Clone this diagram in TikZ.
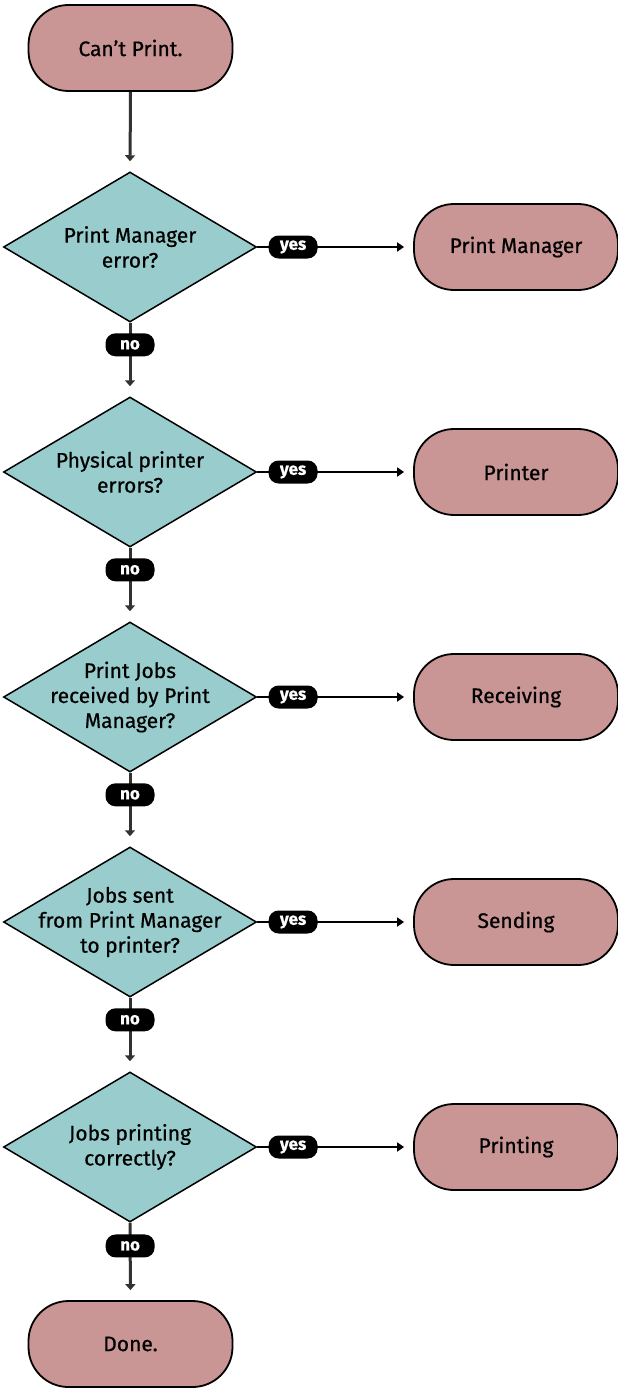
\documentclass[tikz,border=0pt]{standalone}
\usepackage{fontspec}
\setmainfont{Fira Sans}[FakeBold=0.6]
\usetikzlibrary{shapes.geometric,arrows.meta}
\definecolor{pinkfill}{RGB}{201,150,149}
\definecolor{tealfill}{RGB}{153,204,204}
\definecolor{lineg}{RGB}{50,50,50}
\tikzset{
  term/.style={draw=black, line width=1.8pt, fill=pinkfill, rectangle, rounded corners=40pt,
    minimum width=204pt, minimum height=86pt, font=\fontsize{21}{25}\selectfont, inner sep=0pt},
  dia/.style={draw=black, line width=1.5pt, fill=tealfill, diamond, minimum width=253pt,
    minimum height=150pt, inner sep=0pt},
  dtext/.style={align=center, font=\fontsize{21}{25}\selectfont, inner sep=0pt},
  pill/.style={fill=black, text=white, rounded corners=10pt, minimum width=49pt, minimum height=23pt,
    inner sep=0pt, font=\bfseries\fontsize{17}{18}\selectfont},
  downarr/.style={draw=lineg, line width=3pt, -{Triangle[length=6pt,width=10pt]}},
  rightarr/.style={draw=black, line width=2pt, -{Triangle[length=7pt,width=9pt]}},
}
\begin{document}
\begin{tikzpicture}[x=1pt,y=-1pt]
\useasboundingbox (0,0) rectangle (618,1389);
\node[term] (start) at (130.5,48) {Can't Print.};
\node[dia] (d1) at (130,247) {};
\node[dtext] (t1) at (d1) {Print Manager\\error?};
\node[dia] (d2) at (130,472) {};
\node[dtext] (t2) at (d2) {Physical printer\\errors?};
\node[dia] (d3) at (130,697) {};
\node[dtext] (t3) at (d3) {Print Jobs\\received by Print\\Manager?};
\node[dia] (d4) at (130,922) {};
\node[dtext] (t4) at (d4) {Jobs sent\\from Print Manager\\to printer?};
\node[dia] (d5) at (130,1147) {};
\node[dtext] (t5) at (d5) {Jobs printing\\correctly?};
\node[term] (done) at (130.5,1344) {Done.};
\node[term] (r1) at (516,247) {Print Manager};
\node[term] (r2) at (516,472) {Printer};
\node[term] (r3) at (516,697) {Receiving};
\node[term] (r4) at (516,922) {Sending};
\node[term] (r5) at (516,1147) {Printing};
\draw[downarr, shorten >=10pt] (start.south) -- (d1.north);
\foreach \a/\b in {d1/d2,d2/d3,d3/d4,d4/d5,d5/done}{
  \draw[downarr, shorten >=10pt] (\a.south) -- node[pill, pos=0.3] (no\a) {no} (\b.north);
}
\foreach \a/\b in {d1/r1,d2/r2,d3/r3,d4/r4,d5/r5}{
  \draw[rightarr, shorten >=9pt] (\a.east) -- node[pill, pos=0.23] (yes\a) {yes} (\b.west);
}
\end{tikzpicture}
\end{document}
